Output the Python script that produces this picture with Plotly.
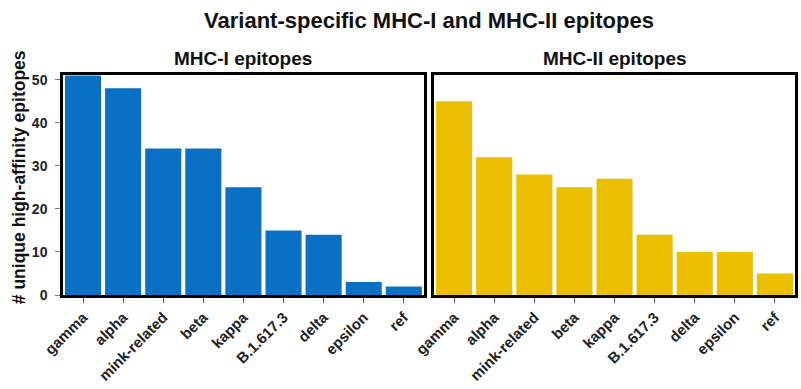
import plotly.graph_objects as go
from plotly.subplots import make_subplots

categories = ["gamma", "alpha", "mink-related", "beta", "kappa", "B.1.617.3", "delta", "epsilon", "ref"]
mhc1_values = [51, 48, 34, 34, 25, 15, 14, 3, 2]
mhc2_values = [45, 32, 28, 25, 27, 14, 10, 10, 5]
panel_titles = ["MHC-I epitopes", "MHC-II epitopes"]
y_ticks = [0, 10, 20, 30, 40, 50]

BLUE = "#0a70c4"
YELLOW = "#eabf00"
FONT = "Liberation Sans"
W, H = 801, 389

fig = make_subplots(rows=1, cols=2, shared_yaxes=False, horizontal_spacing=0.014)
fig.add_trace(go.Bar(x=categories, y=mhc1_values, marker=dict(color=BLUE, line=dict(width=0))), row=1, col=1)
fig.add_trace(go.Bar(x=categories, y=mhc2_values, marker=dict(color=YELLOW, line=dict(width=0))), row=1, col=2)

axis_common = dict(showline=True, linewidth=2.5, linecolor="black", mirror=True,
                   showgrid=False, zeroline=False)
for c in (1, 2):
    fig.update_xaxes(axis_common, row=1, col=c, range=[-0.5, 8.5], ticks="outside", ticklen=5,
                     tickwidth=1, tickcolor="#555", tickangle=-45,
                     tickfont=dict(family=FONT, size=15, color="#222", weight="bold"))
    fig.update_yaxes(axis_common, row=1, col=c, range=[0, 51.1])

fig.update_yaxes(row=1, col=1, tickvals=y_ticks, ticks="outside", ticklen=5, tickwidth=1,
                 tickcolor="#777", ticklabelstandoff=5,
                 tickfont=dict(family=FONT, size=14, color="#222", weight="bold"))
fig.update_yaxes(row=1, col=2, showticklabels=False, ticks="")

fig.update_layout(
    width=W, height=H,
    margin=dict(l=63, r=3, t=75, b=94),
    plot_bgcolor="white", paper_bgcolor="white",
    bargap=0.1, showlegend=False,
    title=dict(text="Variant-specific MHC-I and MHC-II epitopes", xref="paper", x=0.5,
               xanchor="center", yref="container", y=1 - 20 / H, yanchor="middle",
               font=dict(family=FONT, size=22, color="#111", weight="bold")),
)

# y-axis title as annotation for precise placement
fig.add_annotation(text="# unique high-affinity epitopes", textangle=-90,
                   xref="paper", x=-44 / (W - 63 - 3), xanchor="center",
                   yref="paper", y=(295 - 177) / (295 - 75), yanchor="middle",
                   showarrow=False, font=dict(family=FONT, size=17.5, color="#111", weight="bold"))

for i, t in enumerate(panel_titles):
    dom = fig.layout["xaxis" if i == 0 else "xaxis2"].domain
    fig.add_annotation(text=t, x=(dom[0] + dom[1]) / 2, xref="paper", xanchor="center",
                       y=1, yref="paper", yanchor="middle", yshift=17, showarrow=False,
                       font=dict(family=FONT, size=19, color="#111", weight="bold"))

fig.write_html("out.html")
